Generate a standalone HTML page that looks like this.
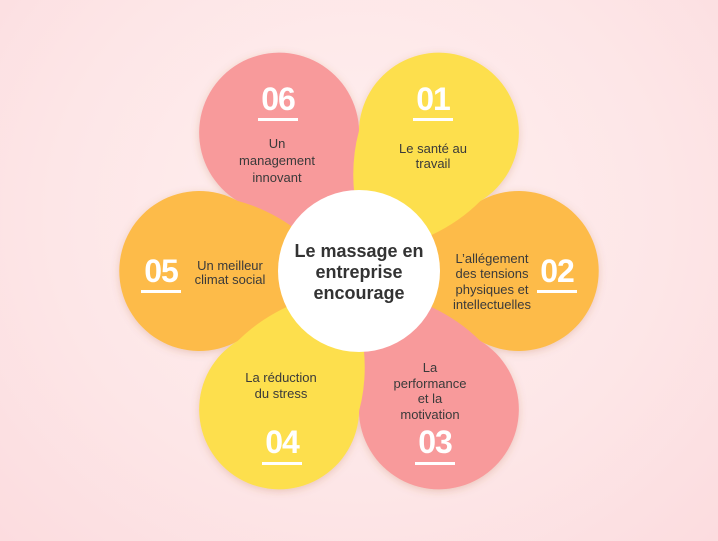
<!DOCTYPE html>
<html><head><meta charset="utf-8"><style>
html,body{margin:0;padding:0;}
body{width:718px;height:541px;overflow:hidden;background:radial-gradient(ellipse at 50% 40%,#fff0f0 0%,#fde6e7 60%,#fcdcdf 100%);}
svg{display:block}
text{font-family:"Liberation Sans",sans-serif;}
.n{fill:#fff;font-weight:bold;font-size:32px;text-anchor:middle;letter-spacing:-1px}
.t{fill:#3a3a3a;font-size:13px;text-anchor:middle}
.c{fill:#333;font-weight:bold;font-size:18px;text-anchor:middle}
</style></head><body>
<svg width="718" height="541" viewBox="0 0 718 541">
<defs>
<path id="p" d="M20,0 Q65,-55 121,-70 A80,80 0 1 1 121,70 Q65,55 20,0 Z"/>
<filter id="s" x="-30%" y="-30%" width="160%" height="160%"><feDropShadow dx="0" dy="2" stdDeviation="4" flood-color="#b06030" flood-opacity="0.25"/></filter>
</defs>
<g transform="translate(359,271)" filter="url(#s)">
<use href="#p" fill="#f89a9b" transform="rotate(-120)"/>
<use href="#p" fill="#fdbb4a" transform="rotate(0)"/>
<use href="#p" fill="#f89a9b" transform="rotate(60)"/>
<use href="#p" fill="#fdbb4a" transform="rotate(180)"/>
<use href="#p" fill="#fddf4e" transform="rotate(120)"/>
<use href="#p" fill="#fddf4e" transform="rotate(-60)"/>
<circle r="81" fill="#fff"/>
</g>
<text class="c" x="359" y="257">Le massage en</text>
<text class="c" x="359" y="278">entreprise</text>
<text class="c" x="359" y="299">encourage</text>

<text class="n" x="278" y="110">06</text><rect x="258" y="118" width="40" height="3" fill="#fff"/>
<text class="t" x="277" y="148">Un</text><text class="t" x="277" y="165">management</text><text class="t" x="277" y="182">innovant</text>

<text class="n" x="433" y="110">01</text><rect x="413" y="118" width="40" height="3" fill="#fff"/>
<text class="t" x="433" y="153">Le santé au</text><text class="t" x="433" y="168">travail</text>

<text class="n" x="557" y="282">02</text><rect x="537" y="290" width="40" height="3" fill="#fff"/>
<text class="t" x="492" y="263">L’allégement</text><text class="t" x="492" y="278">des tensions</text><text class="t" x="492" y="294">physiques et</text><text class="t" x="492" y="309">intellectuelles</text>

<text class="n" x="161" y="282">05</text><rect x="141" y="290" width="40" height="3" fill="#fff"/>
<text class="t" x="230" y="270">Un meilleur</text><text class="t" x="230" y="284">climat social</text>

<text class="n" x="282" y="453">04</text><rect x="262" y="462" width="40" height="3" fill="#fff"/>
<text class="t" x="281" y="382">La réduction</text><text class="t" x="281" y="398">du stress</text>

<text class="n" x="435" y="453">03</text><rect x="415" y="462" width="40" height="3" fill="#fff"/>
<text class="t" x="430" y="372">La</text><text class="t" x="430" y="388">performance</text><text class="t" x="430" y="403">et la</text><text class="t" x="430" y="419">motivation</text>
</svg>
</body></html>
